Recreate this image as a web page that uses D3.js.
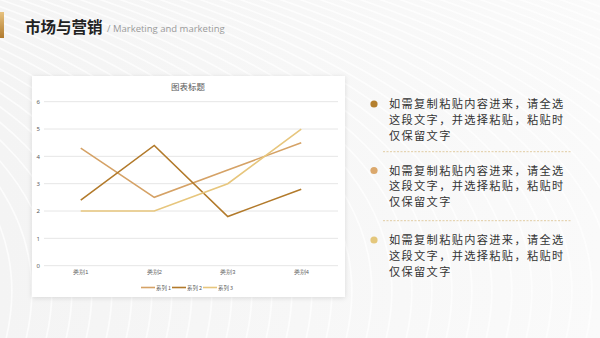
<!DOCTYPE html>
<html>
<head>
<meta charset="utf-8">
<script src="https://cdn.jsdelivr.net/npm/d3@7"></script>
<style>
  html, body { margin: 0; padding: 0; background: #f6f6f6; }
  svg { display: block; font-family: "Noto Sans CJK SC", "Noto Sans", sans-serif; }
</style>
</head>
<body>
<svg id="slide" width="600" height="338"></svg>
<script>
// ── Data ──────────────────────────────────────────────────────────────────────
const CATEGORIES = ['类别1', '类别2', '类别3', '类别4'];
const SERIES     = ['系列 1', '系列 2', '系列 3'];
const SERIES_1   = [4.3, 2.5, 3.5, 4.5];
const SERIES_2   = [2.4, 4.4, 1.8, 2.8];
const SERIES_3   = [2.0, 2.0, 3.0, 5.0];
const Y_TICKS    = [0, 1, 2, 3, 4, 5, 6];
const BULLETS    = [
    ['如需复制粘贴内容进来，请全选', '这段文字，并选择粘贴，粘贴时', '仅保留文字'],
    ['如需复制粘贴内容进来，请全选', '这段文字，并选择粘贴，粘贴时', '仅保留文字'],
    ['如需复制粘贴内容进来，请全选', '这段文字，并选择粘贴，粘贴时', '仅保留文字'],
];

const LINE_COLOR = ['#d5a266', '#b27a2b', '#e7c67d'];
const DOT_COLOR  = ['#b5802e', '#dba86c', '#e4c77c'];

const svg = d3.select('#slide');
const defs = svg.append('defs');

// ── Background ────────────────────────────────────────────────────────────────
const bg = defs.append('linearGradient').attr('id', 'bg').attr('x1', 0).attr('x2', 1);
bg.append('stop').attr('offset', '0%').attr('stop-color', '#f4f4f4');
bg.append('stop').attr('offset', '100%').attr('stop-color', '#fafafa');
svg.append('rect').attr('width', 600).attr('height', 338).attr('fill', 'url(#bg)');

// faint sweeping stripes
const stripes = svg.append('g').attr('fill', 'none').attr('stroke', '#ffffff')
    .attr('stroke-width', 1.6).attr('opacity', 0.75);
d3.range(-12, 40).forEach(i => {
    const o = i * 20;
    stripes.append('path')
        .attr('d', `M${o - 200},-20 Q${o + 260},120 ${o + 180},360`);
});

const gold = defs.append('linearGradient').attr('id', 'gold').attr('x1', 0).attr('y1', 0).attr('x2', 0).attr('y2', 1);
gold.append('stop').attr('offset', '0%').attr('stop-color', '#e7c27f');
gold.append('stop').attr('offset', '100%').attr('stop-color', '#b07a2e');

// ── Header ────────────────────────────────────────────────────────────────────
svg.append('rect').attr('x', 0).attr('y', 12).attr('width', 4).attr('height', 26).attr('fill', 'url(#gold)');
svg.append('text')
    .attr('x', 25).attr('y', 33)
    .attr('font-size', 15.5).attr('font-weight', 700).attr('fill', '#222')
    .text('市场与营销');
svg.append('text')
    .attr('x', 107).attr('y', 32)
    .attr('font-size', 9.5).attr('fill', '#9a9a9a')
    .attr('font-family', '"Open Sans", "Noto Sans", sans-serif')
    .text('/ Marketing and marketing');

// ── Chart panel ───────────────────────────────────────────────────────────────
const shadow = defs.append('filter').attr('id', 'shadow')
    .attr('x', '-10%').attr('y', '-10%').attr('width', '120%').attr('height', '120%');
shadow.append('feDropShadow').attr('dx', 0).attr('dy', 1).attr('stdDeviation', 2.5)
    .attr('flood-color', '#000').attr('flood-opacity', 0.12);

svg.append('rect')
    .attr('x', 32).attr('y', 76).attr('width', 313).attr('height', 221)
    .attr('fill', '#fff').attr('filter', 'url(#shadow)');

svg.append('text')
    .attr('x', 188).attr('y', 90)
    .attr('text-anchor', 'middle')
    .attr('font-size', 8.5).attr('fill', '#595959')
    .text('图表标题');

const x = d3.scaleBand().domain(CATEGORIES).range([44, 338]);
const y = d3.scaleLinear().domain([0, 6]).range([265.7, 101.7]);

const grid = svg.append('g');
grid.selectAll('line')
    .data(Y_TICKS)
    .join('line')
    .attr('x1', 44).attr('x2', 338)
    .attr('y1', d => y(d)).attr('y2', d => y(d))
    .attr('stroke', '#e3e3e3').attr('stroke-width', 0.9);

const yAxis = svg.append('g')
    .attr('transform', 'translate(40,0)')
    .call(d3.axisLeft(y).tickValues(Y_TICKS).tickFormat(d3.format('d')).tickSize(0).tickPadding(0));
yAxis.select('.domain').remove();
yAxis.selectAll('text').attr('font-size', 6).attr('fill', '#595959')
    .attr('font-family', '"Noto Sans", sans-serif');

const xAxis = svg.append('g')
    .attr('transform', 'translate(0,270.5)')
    .call(d3.axisBottom(x).tickSize(0).tickPadding(0));
xAxis.select('.domain').remove();
xAxis.selectAll('text').attr('font-size', 5.6).attr('fill', '#595959').attr('dy', '0.71em');

const seriesData = [SERIES_1, SERIES_2, SERIES_3];
const line = d3.line()
    .x((_, i) => x(CATEGORIES[i]) + x.bandwidth() / 2)
    .y(d => y(d));

svg.append('g').selectAll('path')
    .data(seriesData)
    .join('path')
    .attr('d', line)
    .attr('fill', 'none')
    .attr('stroke', (_, i) => LINE_COLOR[i])
    .attr('stroke-width', 1.6)
    .attr('stroke-linejoin', 'miter');

// Legend
const LEG_X = [141, 172, 203];
const legend = svg.append('g').selectAll('g')
    .data(SERIES)
    .join('g')
    .attr('transform', (_, i) => `translate(${LEG_X[i]},287.5)`);
legend.append('line')
    .attr('x1', 0).attr('x2', 14)
    .attr('stroke', (_, i) => LINE_COLOR[i]).attr('stroke-width', 1.6);
legend.append('text')
    .attr('x', 15).attr('y', 2)
    .attr('font-size', 5.4).attr('fill', '#595959')
    .text(d => d);

// ── Bullet text ───────────────────────────────────────────────────────────────
const GROUP_Y = [104, 170.5, 240];
const items = svg.append('g').selectAll('g')
    .data(BULLETS)
    .join('g')
    .attr('transform', (_, i) => `translate(0,${GROUP_Y[i]})`);
items.append('circle')
    .attr('cx', 374).attr('cy', 0).attr('r', 3.6)
    .attr('fill', (_, i) => DOT_COLOR[i]);
items.each(function (lines) {
    d3.select(this).selectAll('text')
        .data(lines)
        .join('text')
        .attr('x', 389).attr('y', (_, j) => j * 15.8 + 4)
        .attr('font-size', 11.2).attr('letter-spacing', 1.35)
        .attr('fill', '#333')
        .text(d => d);
});

svg.append('g').selectAll('line')
    .data([151.7, 220.7])
    .join('line')
    .attr('x1', 383).attr('x2', 571)
    .attr('y1', d => d).attr('y2', d => d)
    .attr('stroke', '#d9bf8a').attr('stroke-width', 0.8)
    .attr('stroke-dasharray', '2,1.5');
</script>
</body>
</html>
